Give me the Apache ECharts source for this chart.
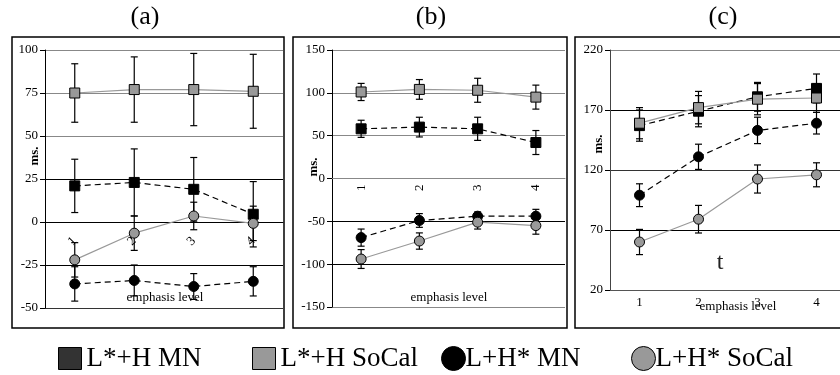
<!DOCTYPE html>
<html>
<head>
<meta charset="utf-8">
<script src="https://cdn.jsdelivr.net/npm/echarts@6/dist/echarts.min.js"></script>
<style>
  html, body { margin: 0; padding: 0; background: #fff; }
  #chart { width: 840px; height: 375px; }
</style>
</head>
<body>
<div id="chart"></div>
<script>
const categories = ['1', '2', '3', '4'];
const names = ['L*+H MN', 'L*+H SoCal', 'L+H* MN', 'L+H* SoCal'];

// panel (a)
const aTicks = [-50, -25, 0, 25, 50, 75, 100];
const aSqMN = [21, 23, 19, 4.5];
const aSqMNErr = [15.5, 19.5, 18.5, 19];
const aSqSC = [75, 77, 77, 76];
const aSqSCErr = [17, 19, 21, 21.5];
const aCiMN = [-36, -34, -37.5, -34.5];
const aCiMNErr = [10, 9, 7.5, 8.5];
const aCiSC = [-22, -6.5, 3.5, -0.8];
const aCiSCErr = [10, 10, 8, 10];

// panel (b)
const bTicks = [-150, -100, -50, 0, 50, 100, 150];
const bSqMN = [58, 60, 58, 42];
const bSqMNErr = [10, 11.5, 13.5, 14];
const bSqSC = [101, 104, 103, 95];
const bSqSCErr = [10, 11.5, 14, 14];
const bCiMN = [-69, -49, -44, -44];
const bCiMNErr = [10, 8, 5, 8];
const bCiSC = [-94, -73, -51, -55];
const bCiSCErr = [11, 9.5, 8, 10];

// panel (c)
const cTicks = [20, 70, 120, 170, 220];
const cSqMN = [157, 169, 181, 188];
const cSqMNErr = [13, 13, 12, 12];
const cSqSC = [159, 172, 179, 180];
const cSqSCErr = [13, 13.5, 13, 12];
const cCiMN = [99, 131, 153, 159];
const cCiMNErr = [9.5, 10.5, 11, 9];
const cCiSC = [60, 79, 112.5, 116];
const cCiSCErr = [10.5, 11.5, 11.7, 10];

const FONT = 'Liberation Serif';

const looks = [
  { symbol: 'rect', fill: '#000', line: '#000', dash: [6, 4] },
  { symbol: 'rect', fill: '#999', line: '#999', dash: 'solid' },
  { symbol: 'circle', fill: '#000', line: '#000', dash: [6, 4] },
  { symbol: 'circle', fill: '#999', line: '#999', dash: 'solid' }
];

const panels = [
  {
    ticks: aTicks, vals: [aSqMN, aSqSC, aCiMN, aCiSC], errs: [aSqMNErr, aSqSCErr, aCiMNErr, aCiSCErr],
    grid: { left: 45, top: 50, width: 238, height: 258 },
    rotate: 45, tickInside: true, xColor: '#000', margin: 17,
    lineColors: ['#333', '#000', '#000', '#000', '#888', '#888', '#888']
  },
  {
    ticks: bTicks, vals: [bSqMN, bSqSC, bCiMN, bCiSC], errs: [bSqMNErr, bSqSCErr, bCiMNErr, bCiSCErr],
    grid: { left: 332, top: 50, width: 233, height: 257 },
    rotate: 90, tickInside: false, xColor: '#888', margin: 6,
    lineColors: ['#888', '#000', '#000', '#888', '#888', '#888', '#888']
  },
  {
    ticks: cTicks, vals: [cSqMN, cSqSC, cCiMN, cCiSC], errs: [cSqMNErr, cSqSCErr, cCiMNErr, cCiSCErr],
    grid: { left: 610, top: 50, width: 236, height: 240 },
    rotate: 0, tickInside: false, xColor: '#555', margin: 6,
    lineColors: ['#555', '#000', '#333', '#000', '#888']
  }
];

function renderErr(params, api) {
  const x = api.value(0);
  const top = api.coord([x, api.value(2)]);
  const bot = api.coord([x, api.value(1)]);
  const w = 3.5;
  const style = { stroke: '#000', lineWidth: 1.2 };
  return {
    type: 'group',
    children: [
      { type: 'line', shape: { x1: top[0], y1: top[1], x2: bot[0], y2: bot[1] }, style: style },
      { type: 'line', shape: { x1: top[0] - w, y1: top[1], x2: top[0] + w, y2: top[1] }, style: style },
      { type: 'line', shape: { x1: bot[0] - w, y1: bot[1], x2: bot[0] + w, y2: bot[1] }, style: style }
    ]
  };
}

const grids = [], xAxes = [], yAxes = [], series = [];
panels.forEach(function (p, i) {
  const lo = p.ticks[0], hi = p.ticks[p.ticks.length - 1];
  // in (a) and (b) the category axis crosses at 0; shift it up from the bottom by hand
  const zeroShift = lo < 0 ? -p.grid.height * (0 - lo) / (hi - lo) : 0;
  grids.push(Object.assign({ outerBoundsMode: 'none', containLabel: false }, p.grid));
  xAxes.push({
    gridIndex: i,
    type: 'category',
    data: categories,
    offset: zeroShift,
    axisLine: { onZero: false, lineStyle: { color: p.xColor, width: 1 } },
    axisTick: { inside: p.tickInside, length: 4, lineStyle: { color: '#000' } },
    axisLabel: { rotate: p.rotate, margin: p.margin, fontSize: 13, fontFamily: FONT, color: '#000' },
    splitLine: { show: false }
  });
  yAxes.push({
    gridIndex: i,
    type: 'value',
    min: lo,
    max: hi,
    interval: p.ticks[1] - p.ticks[0],
    axisLine: { show: true, lineStyle: { color: i === 2 ? '#444' : '#000' } },
    axisTick: { show: true, length: 5, lineStyle: { color: '#000' } },
    axisLabel: { margin: 7, fontSize: 13, fontFamily: FONT, color: '#000' },
    splitLine: { show: true, lineStyle: { color: p.lineColors, width: 1 } }
  });
  p.vals.forEach(function (vals, k) {
    const lk = looks[k];
    const err = p.errs[k];
    series.push({
      type: 'custom',
      xAxisIndex: i,
      yAxisIndex: i,
      silent: true,
      z: 2,
      renderItem: renderErr,
      data: vals.map(function (v, j) { return [j, v - err[j], v + err[j]]; })
    });
    series.push({
      type: 'line',
      name: names[k],
      xAxisIndex: i,
      yAxisIndex: i,
      data: vals,
      symbol: lk.symbol,
      symbolSize: 10,
      z: 3,
      itemStyle: { color: lk.fill, borderColor: '#000', borderWidth: 1 },
      lineStyle: { color: lk.line, width: 1.2, type: lk.dash },
      emphasis: { disabled: true }
    });
  });
});

// four separate legends so each entry can sit where the original has it
const legendX = [53, 247, 436, 626];
const legendLook = [
  { icon: 'rect', color: '#333', w: 23, h: 22 },
  { icon: 'rect', color: '#999', w: 23, h: 22 },
  { icon: 'circle', color: '#000', w: 24, h: 24 },
  { icon: 'circle', color: '#999', w: 24, h: 24 }
];
const legends = names.map(function (n, k) {
  const L = legendLook[k];
  return {
    left: legendX[k],
    top: 340,
    itemWidth: L.w,
    itemHeight: L.h,
    selectedMode: false,
    data: [{ name: n, icon: L.icon, itemStyle: { color: L.color, borderColor: '#000', borderWidth: 1 } }],
    textStyle: { fontSize: 27, fontFamily: FONT, color: '#000', padding: [0, 0, 0, k < 2 ? 0 : -5] }
  };
});

const boxStyle = { fill: 'none', stroke: '#000', lineWidth: 1.5 };
const graphic = [
  { type: 'rect', shape: { x: 12, y: 37, width: 272, height: 291 }, style: boxStyle },
  { type: 'rect', shape: { x: 293, y: 37, width: 274, height: 291 }, style: boxStyle },
  { type: 'rect', shape: { x: 575, y: 37, width: 280, height: 291 }, style: boxStyle },
  { type: 'text', x: 145, y: 17, style: { text: '(a)', font: '26px ' + FONT, fill: '#000', align: 'center', verticalAlign: 'middle' } },
  { type: 'text', x: 431, y: 17, style: { text: '(b)', font: '26px ' + FONT, fill: '#000', align: 'center', verticalAlign: 'middle' } },
  { type: 'text', x: 723, y: 17, style: { text: '(c)', font: '26px ' + FONT, fill: '#000', align: 'center', verticalAlign: 'middle' } },
  { type: 'text', x: 35, y: 156, rotation: Math.PI / 2, style: { text: 'ms.', font: 'bold 13px ' + FONT, fill: '#000', align: 'center', verticalAlign: 'middle' } },
  { type: 'text', x: 314, y: 167, rotation: Math.PI / 2, style: { text: 'ms.', font: 'bold 13px ' + FONT, fill: '#000', align: 'center', verticalAlign: 'middle' } },
  { type: 'text', x: 599, y: 144, rotation: Math.PI / 2, style: { text: 'ms.', font: 'bold 13px ' + FONT, fill: '#000', align: 'center', verticalAlign: 'middle' } },
  { type: 'text', x: 165, y: 298, style: { text: 'emphasis level', font: '13px ' + FONT, fill: '#000', align: 'center', verticalAlign: 'middle' } },
  { type: 'text', x: 449, y: 298, style: { text: 'emphasis level', font: '13px ' + FONT, fill: '#000', align: 'center', verticalAlign: 'middle' } },
  { type: 'text', x: 738, y: 307, style: { text: 'emphasis level', font: '13px ' + FONT, fill: '#000', align: 'center', verticalAlign: 'middle' } },
  { type: 'text', x: 720, y: 263, style: { text: 't', font: '24px ' + FONT, fill: '#222', align: 'center', verticalAlign: 'middle' } }
];

const chart = echarts.init(document.getElementById('chart'));
chart.setOption({
  animation: false,
  backgroundColor: '#fff',
  grid: grids,
  xAxis: xAxes,
  yAxis: yAxes,
  legend: legends,
  graphic: graphic,
  series: series
});
</script>
</body>
</html>
